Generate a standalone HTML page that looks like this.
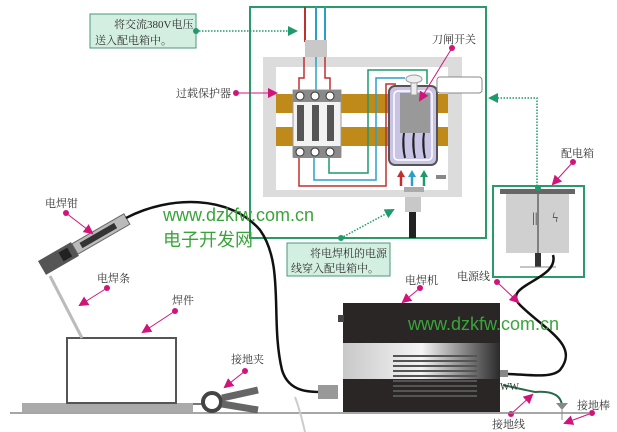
<!DOCTYPE html>
<html><head><meta charset="utf-8"><style>
html,body{margin:0;padding:0;background:#fff;width:617px;height:432px;overflow:hidden}
svg{display:block}
text{font-family:"Liberation Serif","Noto Serif CJK SC",serif;fill:#333}
.w{font-family:"Liberation Sans","Noto Sans CJK SC",sans-serif;fill:#3aa43a}
</style></head><body>
<svg width="617" height="432" viewBox="0 0 617 432" xmlns="http://www.w3.org/2000/svg">
<defs>
<marker id="mp" markerUnits="userSpaceOnUse" markerWidth="10" markerHeight="10" refX="8" refY="5" orient="auto"><path d="M0,0 L10,5 L0,10 z" fill="#d0157a"/></marker>
<marker id="mg" markerUnits="userSpaceOnUse" markerWidth="10" markerHeight="10" refX="8" refY="5" orient="auto"><path d="M0,0 L10,5 L0,10 z" fill="#1f9a6a"/></marker>
<linearGradient id="gm" x1="0" y1="0" x2="1" y2="0"><stop offset="0" stop-color="#c8c8c8"/><stop offset="0.5" stop-color="#f4f4f4"/><stop offset="1" stop-color="#2a2a2a"/></linearGradient>
</defs>
<rect x="250" y="7" width="236" height="231" fill="none" stroke="#2a9a6a" stroke-width="2"/>
<line x1="305" y1="7" x2="305" y2="42" stroke="#c0302f" stroke-width="2"/>
<line x1="316" y1="7" x2="316" y2="42" stroke="#2aa0c8" stroke-width="2"/>
<line x1="325" y1="7" x2="325" y2="42" stroke="#2aa0c8" stroke-width="2"/>
<rect x="305" y="40" width="22" height="17" fill="#c8c8c8"/>
<rect x="263" y="57" width="199" height="140" fill="#dcdcdc"/>
<rect x="276" y="67" width="172" height="123" fill="#fff"/>
<rect x="276" y="94" width="172" height="19" fill="#c08a1a"/>
<rect x="276" y="127" width="172" height="19" fill="#c08a1a"/>
<path d="M304,57 V78 H299 V90 M325,57 V78 H330 V90" fill="none" stroke="#c0302f" stroke-width="1.5"/>
<path d="M299,157 V186 H386 V84 H396" fill="none" stroke="#c0302f" stroke-width="1.5"/>
<path d="M314,157 V180 H376 V78 H405" fill="none" stroke="#2aa0c8" stroke-width="1.5"/>
<path d="M329,157 V173 H368 V70 H427 V84" fill="none" stroke="#1f9a6a" stroke-width="1.5"/>
<path d="M316,57 V90" stroke="#2aa0c8" stroke-width="1.5"/>
<rect x="293" y="90" width="48" height="67" fill="#f2f2f2" stroke="#999"/>
<rect x="293" y="90" width="48" height="12" fill="#8a8a8a"/>
<rect x="293" y="146" width="48" height="12" fill="#8a8a8a"/>
<g fill="#fff" stroke="#333"><circle cx="300" cy="96" r="4"/><circle cx="315" cy="96" r="4"/><circle cx="330" cy="96" r="4"/><circle cx="300" cy="152" r="4"/><circle cx="315" cy="152" r="4"/><circle cx="330" cy="152" r="4"/></g>
<rect x="297" y="105" width="7" height="36" fill="#555"/><rect x="312" y="105" width="7" height="36" fill="#555"/><rect x="327" y="105" width="7" height="36" fill="#555"/>
<rect x="389" y="86" width="48" height="79" rx="6" fill="#c9c4e6" stroke="#555" stroke-width="2"/>
<rect x="394" y="91" width="38" height="69" rx="4" fill="none" stroke="#fff" stroke-width="1.5"/>
<rect x="400" y="93" width="30" height="40" fill="#999"/>
<rect x="411" y="82" width="6" height="13" fill="#eee" stroke="#999"/>
<ellipse cx="414" cy="79" rx="8" ry="4" fill="#eee" stroke="#999"/>
<g stroke="#222" stroke-width="2"><path d="M404,133 Q402,145 405,158"/><path d="M414,133 Q412,145 415,158"/><path d="M424,133 Q422,145 425,158"/></g>
<rect x="437" y="77" width="45" height="16" rx="3" fill="#fff" stroke="#888"/>
<rect x="436" y="175" width="10" height="4" fill="#888"/>
<g stroke-width="2.5">
<path d="M401,186 V176" stroke="#c0302f"/><path d="M397,177 L401,170 L405,177 z" fill="#c0302f"/>
<path d="M412,186 V176" stroke="#2aa0c8"/><path d="M408,177 L412,170 L416,177 z" fill="#2aa0c8"/>
<path d="M424,186 V176" stroke="#1f9a6a"/><path d="M420,177 L424,170 L428,177 z" fill="#1f9a6a"/>
</g>
<rect x="404" y="187" width="20" height="5" fill="#aaa"/>
<rect x="405" y="197" width="16" height="15" fill="#c8c8c8"/>
<rect x="409" y="212" width="7" height="26" fill="#222"/>
<rect x="90" y="14" width="106" height="34" fill="#d3efe2" stroke="#4a9a7a"/>
<text x="114" y="28" font-size="11">将交流380V电压</text>
<text x="95" y="44" font-size="11">送入配电箱中。</text>
<circle cx="196" cy="31" r="3" fill="#1f9a6a"/>
<path d="M196,31 H296" stroke="#1f9a6a" stroke-dasharray="1.5,1.5" stroke-width="1.5" marker-end="url(#mg)"/>
<text x="176" y="97" font-size="11">过载保护器</text>
<circle cx="236" cy="93" r="3" fill="#d0157a"/>
<path d="M236,93 H276" stroke="#d0157a" marker-end="url(#mp)"/>
<text x="432" y="43" font-size="11">刀闸开关</text>
<circle cx="452" cy="48" r="3" fill="#d0157a"/>
<path d="M452,48 L420,100" stroke="#d0157a" marker-end="url(#mp)"/>
<rect x="287" y="243" width="103" height="33" fill="#d3efe2" stroke="#4a9a7a"/>
<text x="310" y="257" font-size="11">将电焊机的电源</text>
<text x="291" y="272" font-size="11">线穿入配电箱中。</text>
<circle cx="341" cy="238" r="3" fill="#1f9a6a"/>
<path d="M341,238 L393,210" stroke="#1f9a6a" stroke-dasharray="1.5,1.5" stroke-width="1.5" marker-end="url(#mg)"/>
<path d="M537,186 V98 H490" fill="none" stroke="#1f9a6a" stroke-dasharray="1.5,1.5" stroke-width="1.5" marker-end="url(#mg)"/>
<rect x="493" y="186" width="91" height="91" fill="none" stroke="#2a9a6a" stroke-width="2"/>
<rect x="506" y="193" width="63" height="60" fill="#d0d0d0"/>
<rect x="500" y="189" width="75" height="5" fill="#666"/>
<line x1="538" y1="193" x2="538" y2="255" stroke="#666" stroke-width="1.5"/>
<circle cx="538" cy="188" r="3" fill="#1f9a6a"/>
<text x="532" y="222" font-size="14" fill="#777">||</text>
<text x="552" y="222" font-size="14" fill="#555">ϟ</text>
<rect x="535" y="253" width="6" height="14" fill="#333"/>
<line x1="520" y1="267" x2="556" y2="267" stroke="#888"/>
<text x="561" y="157" font-size="11">配电箱</text>
<circle cx="573" cy="162" r="3" fill="#d0157a"/>
<path d="M573,162 L553,184" stroke="#d0157a" marker-end="url(#mp)"/>
<path d="M553,255 C560,280 500,285 520,305 C545,330 580,345 560,370 C550,380 520,373 500,374" fill="none" stroke="#111" stroke-width="2.5"/>
<rect x="343" y="303" width="157" height="109" fill="#2a2626"/>
<rect x="343" y="343" width="157" height="36" fill="url(#gm)"/>
<g stroke="#555" stroke-width="2"><line x1="393" y1="356" x2="477" y2="356"/><line x1="393" y1="361" x2="477" y2="361"/><line x1="393" y1="366" x2="477" y2="366"/><line x1="393" y1="371" x2="477" y2="371"/><line x1="393" y1="376" x2="477" y2="376"/><line x1="393" y1="381" x2="477" y2="381"/><line x1="393" y1="386" x2="477" y2="386"/><line x1="393" y1="391" x2="477" y2="391"/><line x1="393" y1="396" x2="477" y2="396"/></g>
<rect x="338" y="315" width="6" height="7" fill="#444"/>
<rect x="500" y="370" width="8" height="7" fill="#888"/>
<path d="M503,385 Q525,390 535,392 Q560,390 562,405" fill="none" stroke="#2a6a4a" stroke-width="2"/>
<text x="500" y="390" font-size="10" fill="#2a8a3a">WW</text>
<path d="M556,403 H568 L562,410 z" fill="#888"/>
<line x1="562" y1="410" x2="562" y2="420" stroke="#888"/>
<text x="405" y="284" font-size="11">电焊机</text>
<circle cx="420" cy="288" r="3" fill="#d0157a"/>
<path d="M420,288 L403,302" stroke="#d0157a" marker-end="url(#mp)"/>
<text x="457" y="280" font-size="11">电源线</text>
<circle cx="497" cy="282" r="3" fill="#d0157a"/>
<path d="M497,282 L518,302" stroke="#d0157a" marker-end="url(#mp)"/>
<text x="492" y="428" font-size="11">接地线</text>
<circle cx="511" cy="414" r="3" fill="#d0157a"/>
<path d="M511,414 L532,395" stroke="#d0157a" marker-end="url(#mp)"/>
<text x="577" y="409" font-size="11">接地棒</text>
<circle cx="592" cy="413" r="3" fill="#d0157a"/>
<path d="M592,413 L565,423" stroke="#d0157a" marker-end="url(#mp)"/>
<line x1="10" y1="413" x2="590" y2="413" stroke="#888" stroke-width="1.5"/>
<rect x="22" y="403" width="171" height="9" fill="#aaa"/>
<rect x="67" y="338" width="109" height="65" fill="#fff" stroke="#555" stroke-width="2"/>
<line x1="50" y1="276" x2="82" y2="338" stroke="#bbb" stroke-width="3"/>
<text x="172" y="304" font-size="11">焊件</text>
<circle cx="175" cy="311" r="3" fill="#d0157a"/>
<path d="M175,311 L143,332" stroke="#d0157a" marker-end="url(#mp)"/>
<text x="97" y="282" font-size="11">电焊条</text>
<circle cx="107" cy="288" r="3" fill="#d0157a"/>
<path d="M107,288 L80,305" stroke="#d0157a" marker-end="url(#mp)"/>
<g transform="translate(42,268) rotate(-30)">
<rect x="0" y="-8" width="38" height="16" fill="#555"/>
<rect x="38" y="-6" width="60" height="12" fill="#bbb" stroke="#666"/>
<rect x="45" y="-3" width="40" height="6" fill="#333"/>
<rect x="22" y="-5" width="10" height="10" fill="#222"/>
</g>
<path d="M126,218 C170,195 230,195 260,230 C285,265 270,320 282,370 C288,390 305,392 320,392" fill="none" stroke="#111" stroke-width="2.5"/>
<rect x="318" y="385" width="20" height="14" fill="#999"/>
<text x="45" y="207" font-size="11">电焊钳</text>
<circle cx="66" cy="213" r="3" fill="#d0157a"/>
<path d="M66,213 L92,233" stroke="#d0157a" marker-end="url(#mp)"/>
<line x1="193" y1="404" x2="205" y2="404" stroke="#777" stroke-width="2"/>
<circle cx="212" cy="402" r="9" fill="none" stroke="#444" stroke-width="4"/>
<path d="M222,398 L258,390" stroke="#666" stroke-width="7"/>
<path d="M222,404 L258,410" stroke="#666" stroke-width="7"/>
<text x="231" y="363" font-size="11">接地夹</text>
<circle cx="245" cy="371" r="3" fill="#d0157a"/>
<path d="M245,371 L225,387" stroke="#d0157a" marker-end="url(#mp)"/>
<path d="M295,397 Q300,410 305,432" fill="none" stroke="#ccc" stroke-width="2"/>
<text class="w" x="163" y="221" font-size="18">www.dzkfw.com.cn</text>
<text class="w" x="163" y="246" font-size="18">电子开发网</text>
<text class="w" x="408" y="330" font-size="18">www.dzkfw.com.cn</text>
</svg>
</body></html>
